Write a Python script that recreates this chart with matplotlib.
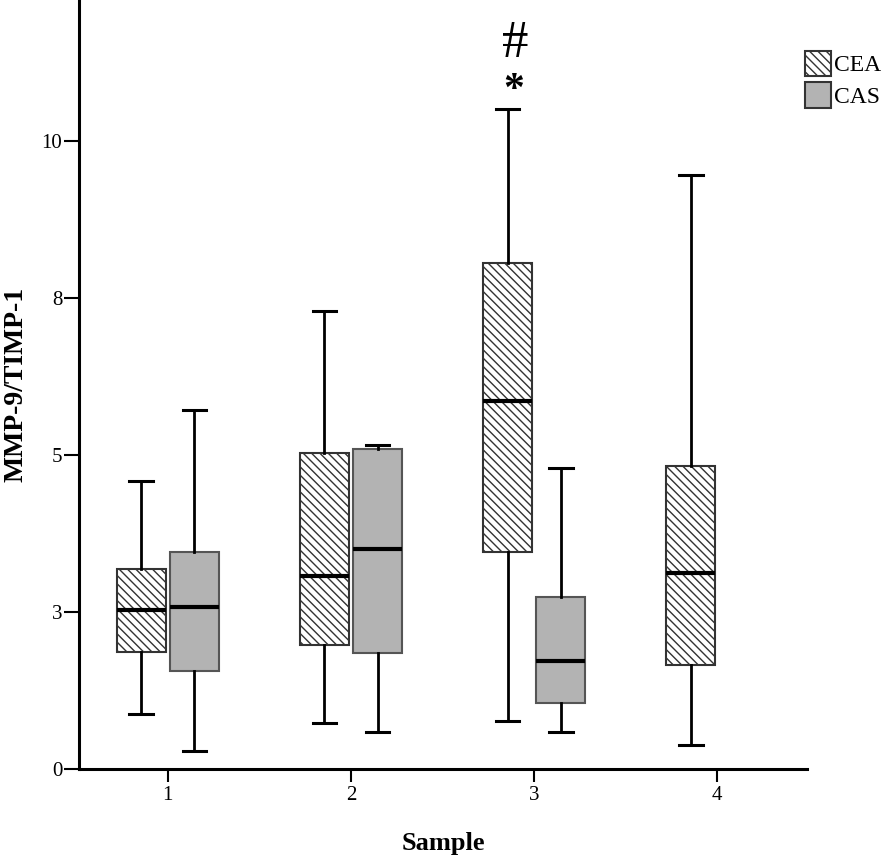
import matplotlib.pyplot as plt
from matplotlib.patches import Patch

plt.rcParams['font.family'] = ['Liberation Serif', 'DejaVu Serif']
plt.rcParams['hatch.linewidth'] = 1.0

# values (five-number summaries per box)
samples = [1, 2, 3, 4]
cea_low = [0.87, 0.73, 0.76, 0.39]
cea_q1 = [1.86, 1.97, 3.45, 1.66]
cea_med = [2.54, 3.08, 5.87, 3.13]
cea_q3 = [3.18, 5.04, 8.06, 4.82]
cea_high = [4.59, 7.29, 10.51, 9.47]

cas_samples = [1, 2, 3]
cas_low = [0.28, 0.59, 0.59]
cas_q1 = [1.56, 1.85, 1.05]
cas_med = [2.58, 3.51, 1.72]
cas_q3 = [3.45, 5.10, 2.74]
cas_high = [5.72, 5.16, 4.79]

y_ticks = [0, 2.5, 5, 7.5, 10]
y_tick_labels = ['0', '3', '5', '8', '10']

HATCH = '\\' * 4


def stats(low, q1, med, q3, high):
    return [dict(whislo=a, q1=b, med=c, q3=d, whishi=e, fliers=[])
            for a, b, c, d, e in zip(low, q1, med, q3, high)]


fig = plt.figure(figsize=(8.94, 8.57), dpi=100)
ax = fig.add_axes([0.0884, 0.1027, 0.8143, 0.8973])

off = 0.145
width = 0.265
common = dict(widths=width, patch_artist=True, showfliers=False,
              medianprops=dict(color='black', linewidth=3, solid_capstyle='butt'),
              whiskerprops=dict(color='black', linewidth=2),
              capprops=dict(color='black', linewidth=2.2),
              capwidths=0.13)

ax.bxp(stats(cea_low, cea_q1, cea_med, cea_q3, cea_high),
       positions=[s - off for s in samples],
       boxprops=dict(facecolor='white', edgecolor='#333333', linewidth=1.5, hatch=HATCH),
       **common)
ax.bxp(stats(cas_low, cas_q1, cas_med, cas_q3, cas_high),
       positions=[s + off for s in cas_samples],
       boxprops=dict(facecolor='#b3b3b3', edgecolor='#555555', linewidth=1.5),
       **common)

# significance marks above sample 3 CEA
ax.text(3 - off + 0.035, 10.8, '*', fontsize=30, fontweight='bold', ha='center', va='center')
ax.text(3 - off + 0.04, 11.55, '#', fontsize=38, ha='center', va='center')

ax.set_xlim(0.515, 4.49)
ax.set_ylim(0, 12.25)
ax.set_xticks(samples)
ax.set_xticklabels([str(s) for s in samples])
ax.set_yticks(y_ticks)
ax.set_yticklabels(y_tick_labels)

for side in ['top', 'right']:
    ax.spines[side].set_visible(False)
for side in ['left', 'bottom']:
    ax.spines[side].set_linewidth(2.2)
ax.tick_params(axis='x', length=9.5, width=1.5, labelsize=15, pad=3)
ax.tick_params(axis='y', length=11, width=1.5, labelsize=15, pad=1)

ax.set_xlabel('Sample', fontsize=19, fontweight='bold')
ax.set_ylabel('MMP-9/TIMP-1', fontsize=20, fontweight='bold')
ax.xaxis.set_label_coords(0.5, -0.082)
ax.yaxis.set_label_coords(-0.07, 0.5)

handles = [Patch(facecolor='white', edgecolor='#333333', hatch=HATCH, linewidth=1.5, label='CEA'),
           Patch(facecolor='#b3b3b3', edgecolor='#333333', linewidth=1.5, label='CAS')]
fig.legend(handles=handles, loc='upper left', bbox_to_anchor=(0.901, 0.941),
           frameon=False, fontsize=17, handlelength=1.1, handleheight=1.3,
           handletextpad=0.1, labelspacing=0.25, borderaxespad=0, borderpad=0)

fig.savefig('out.png', dpi=100)
